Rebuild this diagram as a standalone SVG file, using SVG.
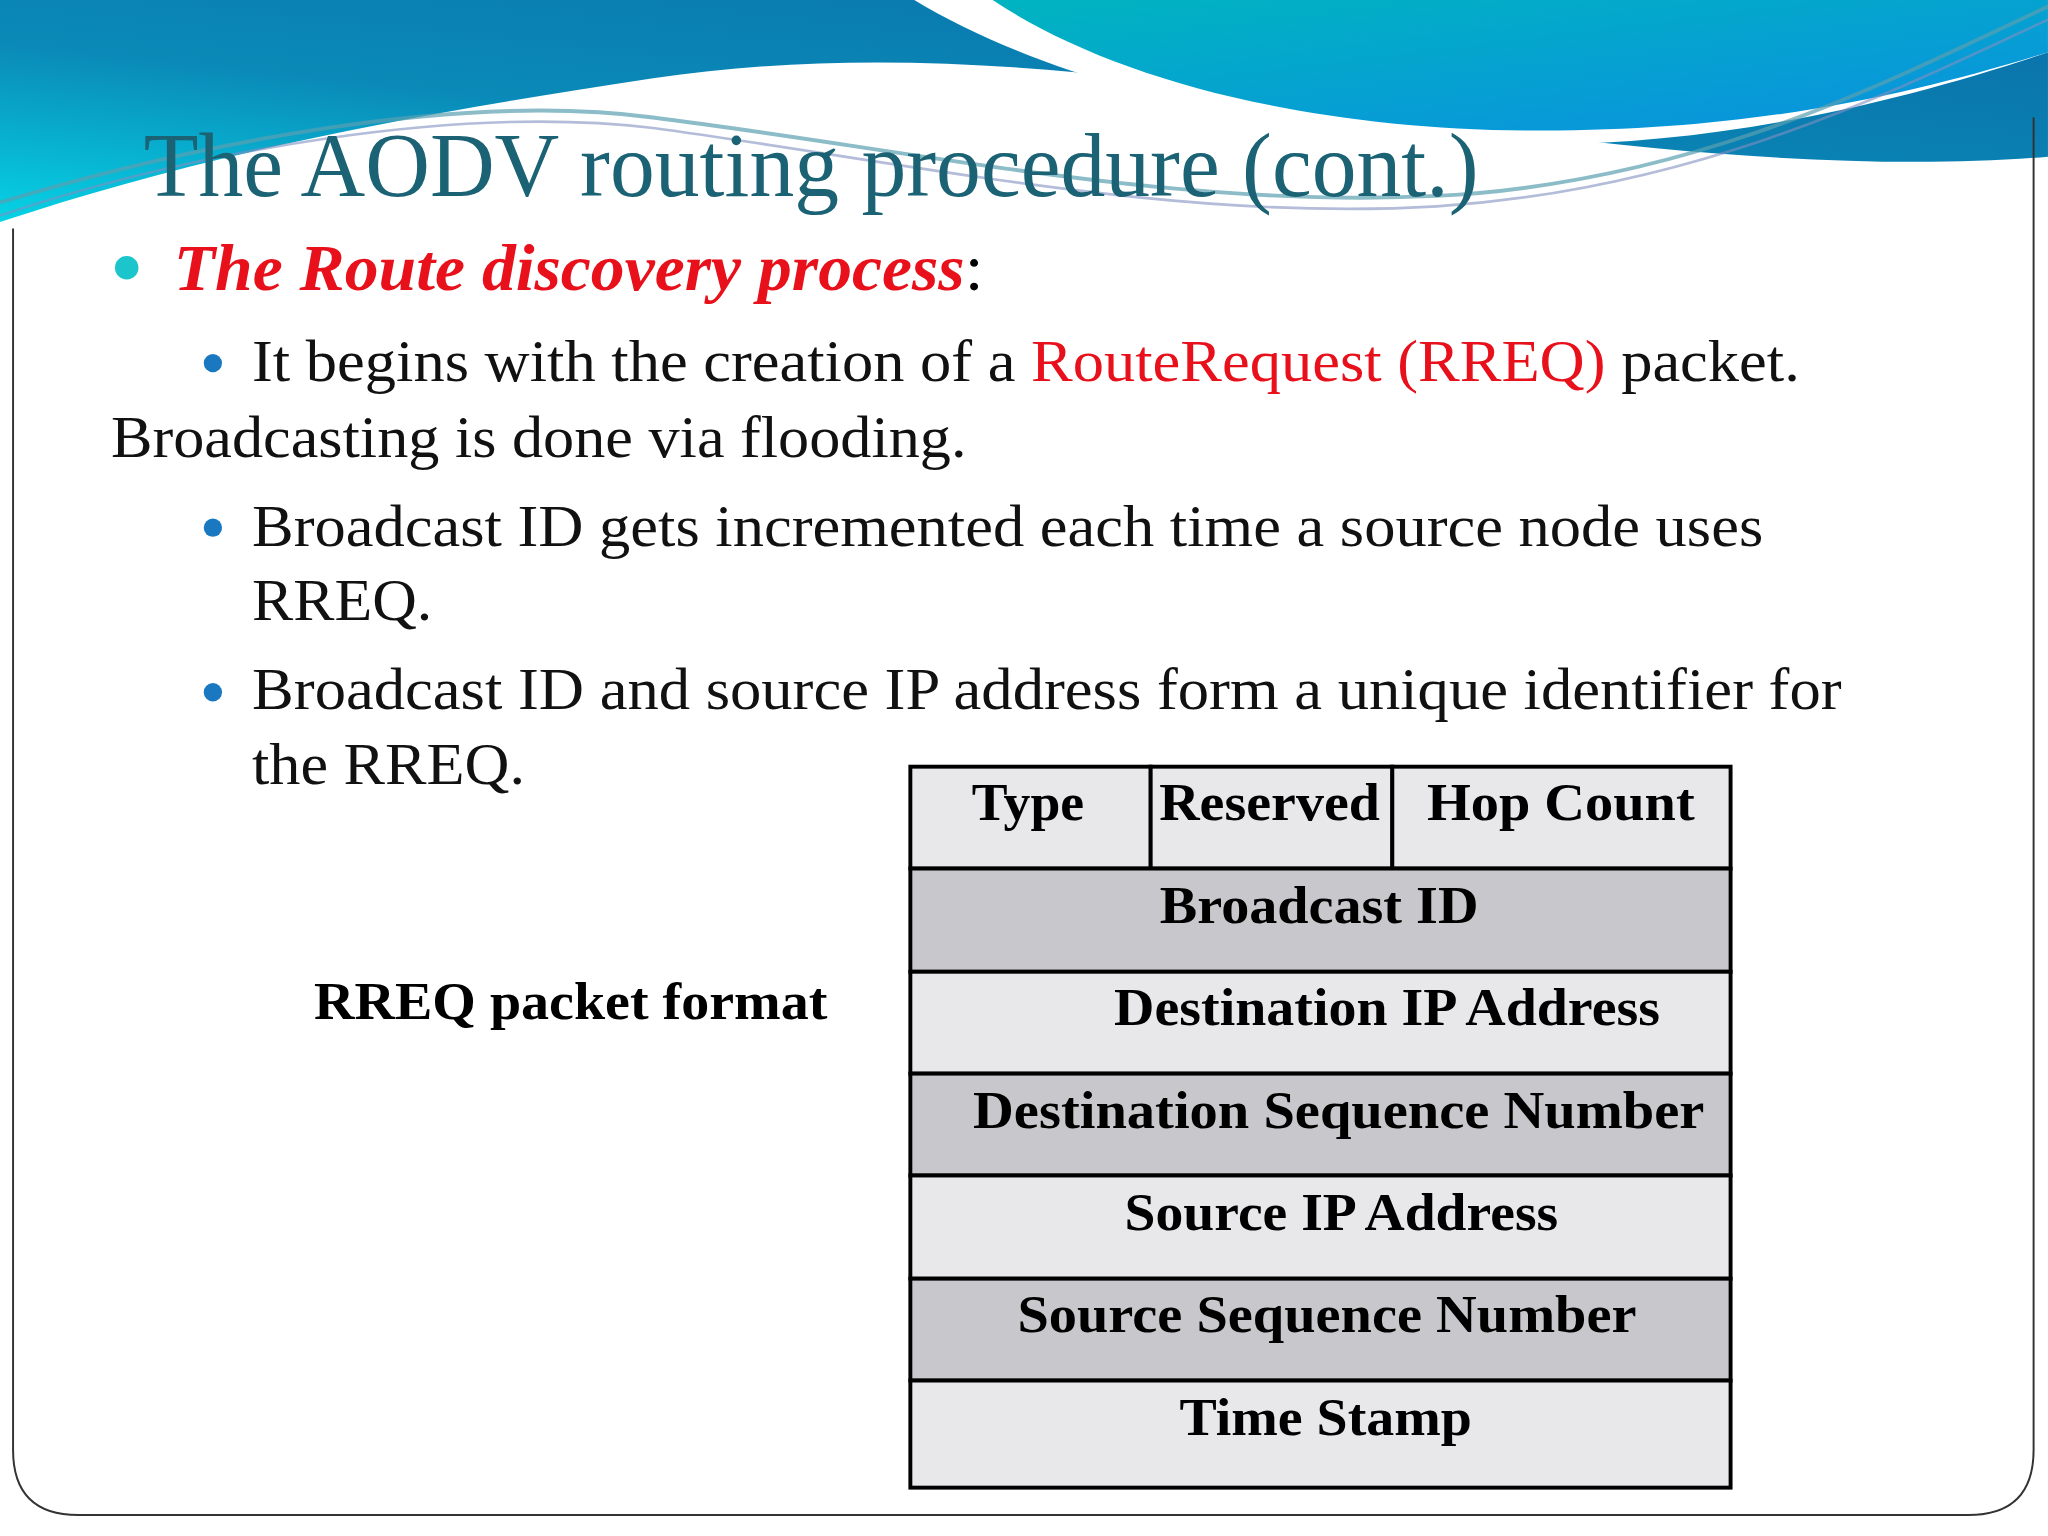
<svg xmlns="http://www.w3.org/2000/svg" width="2048" height="1536" viewBox="0 0 2048 1536">
<defs>
<linearGradient id="g1" x1="0" y1="1" x2="1" y2="0"><stop offset="0" stop-color="#06d3e6"/><stop offset="0.4" stop-color="#0a8ab8"/><stop offset="1" stop-color="#0a6fa8"/></linearGradient>
<linearGradient id="g2" x1="0" y1="0" x2="1" y2="1"><stop offset="0" stop-color="#00b4c0"/><stop offset="1" stop-color="#0a90e0"/></linearGradient>
<style>
.s{font-family:"Liberation Serif",serif}
.b{font-family:"Liberation Serif",serif;font-weight:bold;font-size:40px;fill:#000;text-anchor:middle}
.t{font-size:46px;fill:#111}
.l{fill:#e8e7ea;stroke:#000;stroke-width:3}
.d{fill:#c8c7cb;stroke:#000;stroke-width:3}
</style>
</defs>
<rect width="2048" height="1536" fill="#fff"/>
<g transform="scale(1.3061)">
<path d="M0,0 H1568 V120 C1450,130 1300,120 1150,100 C900,60 700,30 500,60 C300,90 150,120 0,170 Z" fill="url(#g1)"/>
<path d="M700,0 C800,60 950,100 1150,110 C1300,115 1450,80 1568,40 V0 Z" fill="#fff"/>
<path d="M760,0 C850,60 1000,100 1180,100 C1350,100 1470,70 1568,40 V0 Z" fill="url(#g2)"/>
<path d="M0,155 C150,110 350,70 500,90 C700,115 900,160 1100,150 C1300,140 1450,60 1568,5" fill="none" stroke="#5aa0b0" stroke-width="3" opacity="0.7"/>
<path d="M0,165 C150,115 350,80 500,98 C700,125 900,170 1100,158 C1300,145 1450,70 1568,15" fill="none" stroke="#8090c0" stroke-width="2" opacity="0.6"/>
<path d="M10,175 V1110 Q10,1160 60,1160 H1507 Q1557,1160 1557,1110 V90" fill="none" stroke="#333" stroke-width="1.5"/>
<text class="s" x="110" y="150" font-size="70" fill="#1a6274" textLength="1022" lengthAdjust="spacingAndGlyphs">The AODV routing procedure (cont.)</text>
<circle cx="97" cy="205" r="9" fill="#1cc4cc"/>
<text class="s" x="133" y="222" font-size="50" font-weight="bold" font-style="italic" fill="#e8101a" textLength="620" lengthAdjust="spacingAndGlyphs">The Route discovery process<tspan fill="#000" font-weight="normal" font-style="normal">:</tspan></text>
<g fill="#1a78c0"><circle cx="163" cy="278" r="7"/><circle cx="163" cy="404" r="7"/><circle cx="163" cy="530" r="7"/></g>
<text class="s t" x="193" y="292" textLength="1185" lengthAdjust="spacingAndGlyphs">It begins with the creation of a <tspan fill="#e8101a">RouteRequest (RREQ)</tspan> packet.</text>
<text class="s t" x="85" y="350" textLength="655" lengthAdjust="spacingAndGlyphs">Broadcasting is done via flooding.</text>
<text class="s t" x="193" y="418" textLength="1157" lengthAdjust="spacingAndGlyphs">Broadcast ID gets incremented each time a source node uses</text>
<text class="s t" x="193" y="475" textLength="138" lengthAdjust="spacingAndGlyphs">RREQ.</text>
<text class="s t" x="193" y="543" textLength="1217" lengthAdjust="spacingAndGlyphs">Broadcast ID and source IP address form a unique identifier for</text>
<text class="s t" x="193" y="600" textLength="209" lengthAdjust="spacingAndGlyphs">the RREQ.</text>
<text class="b" x="437" y="780" textLength="393" lengthAdjust="spacingAndGlyphs">RREQ packet format</text>
<g id="table">
<rect class="l" x="697" y="587" width="184" height="78"/><rect class="l" x="881" y="587" width="185" height="78"/><rect class="l" x="1066" y="587" width="259" height="78"/>
<rect class="d" x="697" y="665" width="628" height="79"/>
<rect class="l" x="697" y="744" width="628" height="78"/>
<rect class="d" x="697" y="822" width="628" height="78"/>
<rect class="l" x="697" y="900" width="628" height="79"/>
<rect class="d" x="697" y="979" width="628" height="78"/>
<rect class="l" x="697" y="1057" width="628" height="82"/>
<text class="b" x="787" y="628" textLength="86" lengthAdjust="spacingAndGlyphs">Type</text>
<text class="b" x="972" y="628" textLength="169" lengthAdjust="spacingAndGlyphs">Reserved</text>
<text class="b" x="1195" y="628" textLength="205" lengthAdjust="spacingAndGlyphs">Hop Count</text>
<text class="b" x="1010" y="707" textLength="244" lengthAdjust="spacingAndGlyphs">Broadcast ID</text>
<text class="b" x="1062" y="785" textLength="418" lengthAdjust="spacingAndGlyphs">Destination IP Address</text>
<text class="b" x="1025" y="864" textLength="560" lengthAdjust="spacingAndGlyphs">Destination Sequence Number</text>
<text class="b" x="1027" y="942" textLength="332" lengthAdjust="spacingAndGlyphs">Source IP Address</text>
<text class="b" x="1016" y="1020" textLength="474" lengthAdjust="spacingAndGlyphs">Source Sequence Number</text>
<text class="b" x="1015" y="1099" textLength="224" lengthAdjust="spacingAndGlyphs">Time Stamp</text>
</g>
</g>
</svg>
